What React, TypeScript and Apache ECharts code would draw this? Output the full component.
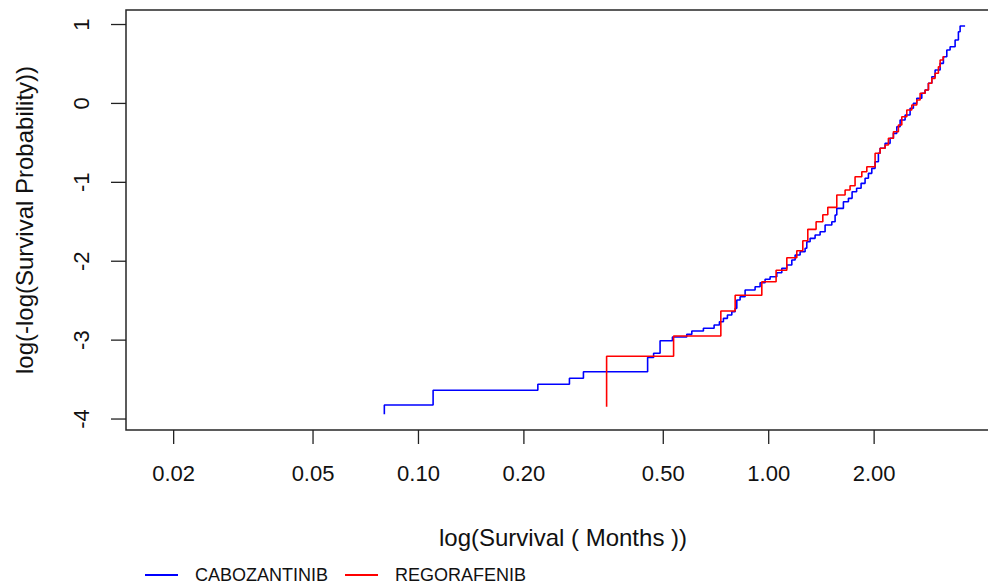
import React, { useEffect, useRef } from "react";
import * as echarts from "echarts";

// ---- data (months, log(-log(S))) ----
const blueTimes = [0.0799, 0.0799, 0.1101, 0.2192, 0.2698, 0.2958, 0.4511, 0.4692, 0.4896, 0.5310, 0.5835, 0.6032, 0.6510, 0.6984, 0.7232, 0.7425, 0.7623, 0.7846, 0.8021, 0.8108, 0.8286, 0.8563, 0.9144, 0.9450, 0.9766, 1.0092, 1.0546, 1.0899, 1.1264, 1.1641, 1.1896, 1.2294, 1.2703, 1.2846, 1.3127, 1.3566, 1.4020, 1.4488, 1.5142, 1.5473, 1.5645, 1.6342, 1.6889, 1.7301, 1.7824, 1.8357, 1.8844, 1.9261, 1.9696, 2.0127, 2.0568, 2.0801, 2.1494, 2.2213, 2.2699, 2.3212, 2.3724, 2.4514, 2.5333, 2.5888, 2.6472, 2.7358, 2.7958, 2.8576, 2.9222, 2.9862, 3.0862, 3.1537, 3.2249, 3.2955, 3.4057, 3.4802, 3.5197, 3.6368];
const blueValues = [-3.940, -3.823, -3.636, -3.560, -3.484, -3.400, -3.221, -3.166, -3.008, -2.961, -2.927, -2.885, -2.850, -2.809, -2.767, -2.724, -2.682, -2.640, -2.597, -2.492, -2.450, -2.365, -2.323, -2.273, -2.229, -2.196, -2.146, -2.090, -2.048, -1.985, -1.921, -1.880, -1.836, -1.753, -1.710, -1.668, -1.626, -1.541, -1.499, -1.414, -1.330, -1.246, -1.203, -1.119, -1.076, -1.013, -0.949, -0.886, -0.823, -0.739, -0.632, -0.569, -0.506, -0.442, -0.379, -0.295, -0.210, -0.147, -0.062, 0.001, 0.065, 0.128, 0.170, 0.255, 0.338, 0.423, 0.508, 0.592, 0.677, 0.719, 0.804, 0.909, 0.981, 0.981];

const redTimes = [0.3445, 0.3445, 0.5351, 0.7300, 0.8021, 0.9557, 1.0498, 1.1264, 1.2029, 1.2514, 1.2931, 1.3656, 1.4272, 1.4747, 1.5645, 1.6524, 1.7072, 1.7643, 1.8442, 1.9060, 2.0127, 2.0801, 2.1494, 2.1967, 2.2699, 2.3457, 2.3988, 2.4790, 2.5620, 2.6472, 2.7058, 2.7958, 2.8576, 2.9222, 2.9862, 3.0516, 3.0862, 3.1472, 3.1800];
const redValues = [-3.844, -3.205, -2.948, -2.631, -2.432, -2.260, -2.115, -1.956, -1.867, -1.740, -1.596, -1.499, -1.411, -1.317, -1.161, -1.098, -1.043, -0.929, -0.866, -0.802, -0.632, -0.569, -0.527, -0.442, -0.359, -0.274, -0.169, -0.084, -0.020, 0.043, 0.128, 0.170, 0.255, 0.318, 0.382, 0.465, 0.550, 0.592, 0.592];

const seriesNames = ["CABOZANTINIB", "REGORAFENIB"];

const xTickValues = [0.02, 0.05, 0.1, 0.2, 0.5, 1, 2];
const xTickLabels = ["0.02", "0.05", "0.10", "0.20", "0.50", "1.00", "2.00"];
const yTickValues = [1, 0, -1, -2, -3, -4];
const yTickLabels = ["1", "0", "-1", "-2", "-3", "-4"];

const X_MIN_MONTHS = 0.01462;
const X_MAX_MONTHS = 4.575;
const Y_MIN = -4.139;
const Y_MAX = 1.184;

const FONT = '"Liberation Sans", Arial, Helvetica, sans-serif';

export default function App() {
  const ref = useRef<HTMLDivElement>(null);

  useEffect(() => {
    if (!ref.current) return;
    const chart = echarts.init(ref.current, undefined, { renderer: "svg" });
    const LX_MIN = Math.log10(X_MIN_MONTHS);
    const LX_MAX = Math.log10(X_MAX_MONTHS);

    const toPts = (t: number[], v: number[]) => t.map((x, i) => [Math.log10(x), v[i]]);

    const option: any = {
      animation: false,
      grid: {
        left: 126,
        top: 10,
        right: 0,
        bottom: 157,
        outerBoundsMode: "none",
        containLabel: false,
        show: true,
        borderColor: "#262626",
        borderWidth: 1.5,
        backgroundColor: "transparent",
      },
      xAxis: {
        type: "value",
        min: LX_MIN,
        max: LX_MAX,
        axisLine: { show: false },
        axisTick: { show: false },
        axisLabel: { show: false },
        splitLine: { show: false },
        name: "log(Survival ( Months ))",
        nameLocation: "middle",
        nameGap: 95,
        nameTextStyle: { fontFamily: FONT, fontSize: 24, color: "#111", lineHeight: 24 },
      },
      yAxis: {
        type: "value",
        min: Y_MIN,
        max: Y_MAX,
        axisLine: { show: false },
        axisTick: { show: false },
        axisLabel: { show: false },
        splitLine: { show: false },
        name: "log(-log(Survival Probability))",
        nameLocation: "middle",
        nameRotate: 90,
        nameGap: 90,
        nameTextStyle: { fontFamily: FONT, fontSize: 24, color: "#111", lineHeight: 24 },
      },
      legend: {
        data: seriesNames,
        left: 145,
        top: 566,
        padding: 0,
        icon: "rect",
        itemWidth: 33,
        itemHeight: 2,
        itemGap: 17,
        textStyle: { fontFamily: FONT, fontSize: 18, color: "#111", padding: [0, 0, 0, 12] },
      },
      series: [
        {
          name: seriesNames[0],
          type: "line",
          step: "end",
          symbol: "none",
          data: toPts(blueTimes, blueValues),
          lineStyle: { color: "#0000ff", width: 1.6 },
          itemStyle: { color: "#0000ff" },
          z: 3,
        },
        {
          name: seriesNames[1],
          type: "line",
          step: "end",
          symbol: "none",
          data: toPts(redTimes, redValues),
          lineStyle: { color: "#ff0000", width: 1.6 },
          itemStyle: { color: "#ff0000" },
          z: 4,
        },
        {
          type: "custom",
          silent: true,
          clip: false,
          coordinateSystem: "cartesian2d",
          data: xTickValues.map((v) => [Math.log10(v), Y_MIN]),
          renderItem: (params: any, api: any) => {
            const p = api.coord([api.value(0), api.value(1)]);
            const i = params.dataIndex;
            return {
              type: "group",
              children: [
                {
                  type: "line",
                  shape: { x1: p[0], y1: p[1], x2: p[0], y2: p[1] + 14 },
                  style: { stroke: "#222", lineWidth: 1.3 },
                },
                {
                  type: "text",
                  x: p[0],
                  y: p[1] + 43,
                  style: {
                    text: xTickLabels[i],
                    fill: "#111",
                    fontFamily: FONT,
                    fontSize: 22,
                    align: "center",
                    verticalAlign: "middle",
                  },
                },
              ],
            };
          },
          z: 5,
        },
        {
          type: "custom",
          silent: true,
          clip: false,
          coordinateSystem: "cartesian2d",
          data: yTickValues.map((v) => [LX_MIN, v]),
          renderItem: (params: any, api: any) => {
            const p = api.coord([api.value(0), api.value(1)]);
            const i = params.dataIndex;
            return {
              type: "group",
              children: [
                {
                  type: "line",
                  shape: { x1: p[0] - 15, y1: p[1], x2: p[0], y2: p[1] },
                  style: { stroke: "#222", lineWidth: 1.3 },
                },
                {
                  type: "text",
                  x: p[0] - 45,
                  y: p[1],
                  rotation: Math.PI / 2,
                  style: {
                    text: yTickLabels[i],
                    fill: "#111",
                    fontFamily: FONT,
                    fontSize: 22,
                    align: "center",
                    verticalAlign: "middle",
                  },
                },
              ],
            };
          },
          z: 5,
        },
      ],
    };

    chart.setOption(option);
    return () => chart.dispose();
  }, []);

  return (
    <div
      ref={ref}
      style={{ position: "fixed", left: 0, top: 0, width: 1000, height: 587, background: "#fff" }}
    />
  );
}
